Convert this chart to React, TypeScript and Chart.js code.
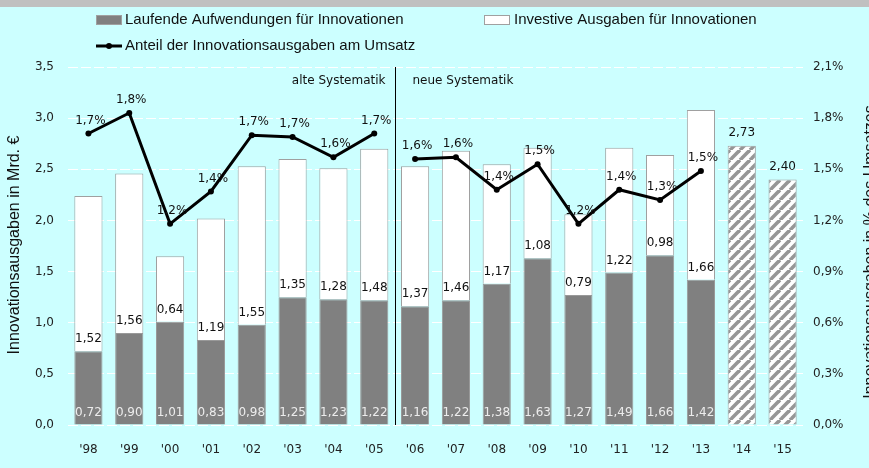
import React, { useEffect, useRef } from "react";
import { Chart, registerables } from "chart.js";

Chart.register(...registerables);

const years = ["'98", "'99", "'00", "'01", "'02", "'03", "'04", "'05", "'06", "'07", "'08", "'09", "'10", "'11", "'12", "'13", "'14", "'15"];
const laufende = [0.72, 0.90, 1.01, 0.83, 0.98, 1.25, 1.23, 1.22, 1.16, 1.22, 1.38, 1.63, 1.27, 1.49, 1.66, 1.42, null, null];
const investive = [1.52, 1.56, 0.64, 1.19, 1.55, 1.35, 1.28, 1.48, 1.37, 1.46, 1.17, 1.08, 0.79, 1.22, 0.98, 1.66, null, null];
const geplant = [null, null, null, null, null, null, null, null, null, null, null, null, null, null, null, null, 2.73, 2.40];
const anteilAlt = [1.71, 1.83, 1.18, 1.37, 1.70, 1.69, 1.57, 1.71, null, null, null, null, null, null, null, null, null, null];
const anteilNeu = [null, null, null, null, null, null, null, null, 1.56, 1.57, 1.38, 1.53, 1.18, 1.38, 1.32, 1.49, null, null];

const legendLabels = ["Laufende Aufwendungen für Innovationen", "Investive Ausgaben für Innovationen", "Anteil der Innovationsausgaben am Umsatz"];
const leftTitle = "Innovationsausgaben in Mrd. €";
const rightTitle = "Innovationsausgaben in % des Umsatzes";
const oldLabel = "alte Systematik";
const newLabel = "neue Systematik";

const W = 869;
const H = 468;
const BG = "#ccffff";
const DARK = "#808080";
const EDGE = "#a0a0a0";
const SMALL_FONT = '12px "DejaVu Sans"';
const BIG_FONT = '15px "Liberation Sans"';
const TITLE_FONT = '16px "Liberation Sans"';

const comma = (s: string) => s.replace(".", ",");

function makeHatch(): CanvasPattern | string {
  const s = 10;
  const c = document.createElement("canvas");
  c.width = s;
  c.height = s;
  const g = c.getContext("2d");
  if (!g) return "#ffffff";
  g.fillStyle = "#ffffff";
  g.fillRect(0, 0, s, s);
  g.strokeStyle = "#969696";
  g.lineWidth = 3.6;
  for (const x0 of [-s, 0, s]) {
    g.beginPath();
    g.moveTo(x0, s);
    g.lineTo(x0 + s, 0);
    g.stroke();
  }
  const p = g.createPattern(c, "repeat");
  return p || "#ffffff";
}

const backgroundPlugin = {
  id: "bgPlugin",
  beforeDraw(chart: any) {
    const ctx = chart.ctx;
    ctx.save();
    ctx.fillStyle = BG;
    ctx.fillRect(0, 0, chart.width, chart.height);
    ctx.fillStyle = "#c0c0c0";
    ctx.fillRect(0, 0, chart.width, 7);
    ctx.restore();
  },
};

const overlayPlugin = {
  id: "overlayPlugin",
  afterDatasetsDraw(chart: any) {
    const ctx = chart.ctx;
    const area = chart.chartArea;
    ctx.save();
    ctx.font = SMALL_FONT;
    ctx.textAlign = "center";
    ctx.textBaseline = "middle";

    const m0 = chart.getDatasetMeta(0);
    const m1 = chart.getDatasetMeta(1);
    const m2 = chart.getDatasetMeta(2);
    laufende.forEach((v, i) => {
      if (v == null) return;
      const el = m0.data[i];
      ctx.fillStyle = "#ececec";
      ctx.fillText(comma(v.toFixed(2)), el.x, el.base - 12);
    });
    investive.forEach((v, i) => {
      if (v == null) return;
      const el = m1.data[i];
      ctx.fillStyle = "#111111";
      ctx.fillText(comma(v.toFixed(2)), el.x, el.base - 12);
    });
    geplant.forEach((v, i) => {
      if (v == null) return;
      const el = m2.data[i];
      ctx.fillStyle = "#111111";
      ctx.fillText(comma(v.toFixed(2)), el.x, el.y - 13);
    });
    [3, 4].forEach((di) => {
      const meta = chart.getDatasetMeta(di);
      const arr = di === 3 ? anteilAlt : anteilNeu;
      arr.forEach((v, i) => {
        if (v == null) return;
        const pt = meta.data[i];
        ctx.fillStyle = "#111111";
        ctx.fillText(comma(v.toFixed(1)) + "%", pt.x + 2, pt.y - 13);
      });
    });

    // divider between old and new methodology
    const xDiv = Math.round((m0.data[7].x + m0.data[8].x) / 2) + 0.5;
    ctx.strokeStyle = "#000000";
    ctx.lineWidth = 1;
    ctx.beginPath();
    ctx.moveTo(xDiv, area.top);
    ctx.lineTo(xDiv, area.bottom);
    ctx.stroke();
    ctx.fillStyle = "#111111";
    ctx.textAlign = "right";
    ctx.fillText(oldLabel, xDiv - 10, area.top + 14);
    ctx.textAlign = "left";
    ctx.fillText(newLabel, xDiv + 17, area.top + 14);

    // axis titles
    ctx.font = TITLE_FONT;
    ctx.textAlign = "center";
    ctx.fillStyle = "#111111";
    ctx.save();
    ctx.translate(15, 245);
    ctx.rotate(-Math.PI / 2);
    ctx.fillText(leftTitle, 0, 0);
    ctx.restore();
    ctx.save();
    ctx.translate(871, 252);
    ctx.rotate(-Math.PI / 2);
    ctx.fillText(rightTitle, 0, 0);
    ctx.restore();

    // legend
    ctx.font = BIG_FONT;
    ctx.textAlign = "left";
    ctx.textBaseline = "middle";
    ctx.fillStyle = DARK;
    ctx.fillRect(96, 15, 26, 10);
    ctx.strokeStyle = EDGE;
    ctx.lineWidth = 1;
    ctx.strokeRect(96.5, 15.5, 25, 9);
    ctx.fillStyle = "#111111";
    ctx.fillText(legendLabels[0], 125, 20);
    ctx.fillStyle = "#ffffff";
    ctx.fillRect(484, 15, 26, 10);
    ctx.strokeStyle = EDGE;
    ctx.strokeRect(484.5, 15.5, 25, 9);
    ctx.fillStyle = "#111111";
    ctx.fillText(legendLabels[1], 514, 20);
    ctx.strokeStyle = "#000000";
    ctx.lineWidth = 3;
    ctx.beginPath();
    ctx.moveTo(96, 46);
    ctx.lineTo(122, 46);
    ctx.stroke();
    ctx.fillStyle = "#000000";
    ctx.beginPath();
    ctx.arc(109, 46, 3, 0, Math.PI * 2);
    ctx.fill();
    ctx.fillStyle = "#111111";
    ctx.fillText(legendLabels[2], 125, 46);

    ctx.restore();
  },
};

export default function App() {
  const ref = useRef<HTMLCanvasElement | null>(null);

  useEffect(() => {
    document.body.style.margin = "0";
    const canvas = ref.current;
    if (!canvas) return;
    const hatch = makeHatch();
    const barCommon = {
      type: "bar" as const,
      yAxisID: "y",
      stack: "s",
      borderWidth: 1,
      barPercentage: 0.69,
      categoryPercentage: 1,
      order: 1,
    };
    const lineCommon = {
      type: "line" as const,
      yAxisID: "y1",
      borderColor: "#000000",
      borderWidth: 3,
      pointRadius: 3,
      pointBackgroundColor: "#000000",
      pointBorderColor: "#000000",
      pointBorderWidth: 0,
      tension: 0,
      fill: false,
      spanGaps: false,
      order: 0,
    };
    const chart = new Chart(canvas, {
      type: "bar",
      data: {
        labels: years,
        datasets: [
          { ...barCommon, label: legendLabels[0], data: laufende, backgroundColor: DARK, borderColor: "#999999" },
          { ...barCommon, label: legendLabels[1], data: investive, backgroundColor: "#ffffff", borderColor: EDGE },
          { ...barCommon, label: "Planung", data: geplant, backgroundColor: hatch as any, borderColor: EDGE },
          { ...lineCommon, label: legendLabels[2], data: anteilAlt },
          { ...lineCommon, label: legendLabels[2] + " (neu)", data: anteilNeu },
        ] as any,
      },
      options: {
        responsive: false,
        animation: false,
        devicePixelRatio: 1,
        layout: { padding: { top: 67, left: 0, right: 0, bottom: 0 } },
        plugins: { legend: { display: false }, tooltip: { enabled: false }, title: { display: false } },
        scales: {
          x: {
            stacked: true,
            grid: { display: false },
            border: { display: false },
            ticks: { color: "#222222", font: { family: "DejaVu Sans", size: 12 }, padding: 10, maxRotation: 0 },
            afterFit: (s: any) => {
              s.height = H - 425;
            },
          },
          y: {
            stacked: true,
            position: "left",
            min: 0,
            max: 3.5,
            grid: { color: "#ffffff", lineWidth: 1, drawTicks: false },
            border: { display: false, dash: [10, 3] },
            ticks: {
              stepSize: 0.5,
              padding: 14,
              color: "#222222",
              font: { family: "DejaVu Sans", size: 12 },
              callback: (v: any) => comma(Number(v).toFixed(1)),
            },
            afterFit: (s: any) => {
              s.width = 68;
            },
          },
          y1: {
            position: "right",
            min: 0,
            max: 2.1,
            grid: { display: false, drawTicks: false },
            border: { display: false },
            ticks: {
              stepSize: 0.3,
              padding: 10,
              color: "#222222",
              font: { family: "DejaVu Sans", size: 12 },
              callback: (v: any) => comma(Number(v).toFixed(1)) + "%",
            },
            afterFit: (s: any) => {
              s.width = W - 803;
            },
          },
        },
      } as any,
      plugins: [backgroundPlugin, overlayPlugin],
    });
    return () => chart.destroy();
  }, []);

  return <canvas ref={ref} width={W} height={H} style={{ display: "block" }} />;
}
